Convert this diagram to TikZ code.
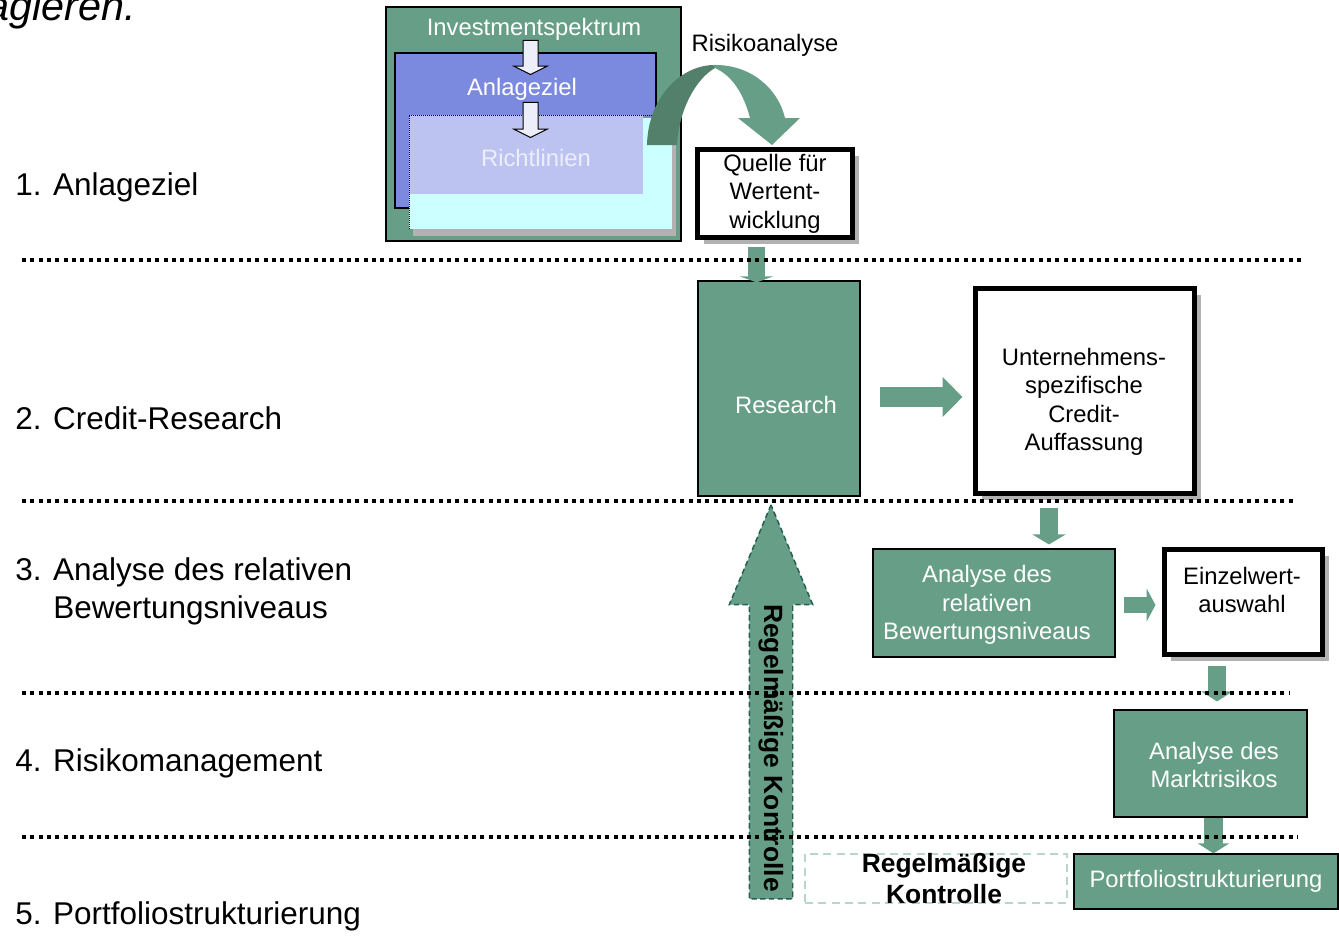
\documentclass[tikz,border=0pt]{standalone}
\usepackage{fontspec}
\setmainfont{Liberation Sans}
\usepackage{tikz}
\usetikzlibrary{arrows.meta}
\usetikzlibrary{calc}
\usetikzlibrary{shadows}
\usetikzlibrary{shapes.arrows}

\definecolor{boxgreen}{RGB}{102,158,135}
\definecolor{legdark}{RGB}{82,128,107}
\definecolor{ctrldash}{RGB}{35,95,78}
\definecolor{zielblue}{RGB}{123,137,222}
\definecolor{richtlav}{RGB}{189,195,240}
\definecolor{richtcyan}{RGB}{204,255,255}
\definecolor{shadowgray}{RGB}{178,178,178}
\definecolor{ctrlframe}{RGB}{185,215,200}
\definecolor{pfeilfill}{RGB}{236,238,250}

\begin{document}
\begin{tikzpicture}[x=0.75pt,y=0.75pt,yscale=-1,xscale=1,
  boxfont/.style={font=\fontsize{17.85}{21.4}\selectfont},
  boxtext/.style={boxfont,inner sep=0pt,align=center},
  greenbox/.style={draw=black,line width=0.9pt,fill=boxgreen,text=white,align=center,inner sep=0pt,boxfont},
  thickbox/.style={draw=black,line width=3.75pt,fill=white,align=center,inner sep=0pt,boxfont,
    drop shadow={shadow xshift=4.5pt,shadow yshift=-4.5pt,fill=shadowgray,opacity=1}},
  stagelabel/.style={anchor=west,inner sep=0pt,align=left,font=\fontsize{23.6}{28.5}\selectfont},
  flowarrow/.style={draw=boxgreen,line width=13.5pt,-{Triangle[width=24.75pt,length=7.5pt]}},
  sepline/.style={line width=3pt,dash pattern=on 3pt off 3.25pt},
  smallarrow/.style={single arrow,draw=black,line width=0.75pt,fill=pfeilfill,inner xsep=0pt,inner ysep=5.25pt,
    minimum width=24pt,single arrow head extend=6.75pt,single arrow tip angle=127,rotate=-90,anchor=tip},
  boldfont/.style={font=\fontsize{19.8}{23.25}\selectfont\bfseries}
]
\useasboundingbox (0,0) rectangle (1339,940);

% Text Node
\node[anchor=base west,inner sep=0pt,font=\fontsize{31}{37}\selectfont\itshape] (satzende) at (-14,20) {agieren.};

%Shape: Rectangle [Investmentspektrum]
\node[greenbox,minimum width=221.25pt,minimum height=175.5pt] (spektrum) at (533.5,124) {};
%Shape: Rectangle [Anlageziel]
\node[draw=black,line width=0.9pt,fill=zielblue,inner sep=0pt,minimum width=195.75pt,minimum height=116.25pt] (ziel) at (525.5,130.5) {};
%Shape: Rectangle [Richtlinien]
\fill[shadowgray] (413,122) rectangle (676,236);
\fill[richtcyan] (409,118) rectangle (672,229);
\node[fill=richtlav,inner sep=0pt,minimum width=175.5pt,minimum height=59.25pt] (richtl) at (526,154.5) {};
\draw[line width=0.75pt,dash pattern=on 0.75pt off 0.75pt] (409,229) -- (409,115) -- (657,115);

% Text Node
\node[boxtext,text=white] (spektrumtxt) at (534,29) {Investmentspektrum};
% Text Node
\node[boxtext,text=white] (zieltxt) at (522,89) {Anlageziel};
% Text Node
\node[boxtext,text=pfeilfill] (richtltxt) at (536,158) {Richtlinien};
%Shape: Down Arrow
\node[smallarrow,minimum height=25.5pt] (pfeil1) at (530.5,75) {};
%Shape: Down Arrow
\node[smallarrow,minimum height=26.25pt] (pfeil2) at (530.5,138) {};

%Curve Lines [Risikoanalyse]
\fill[boxgreen] (713,65) .. controls (750,64) and (778,88) .. (785,118) -- (800,118) -- (772,145) -- (738,118) -- (750,118) .. controls (744,95) and (733,76) .. (715,68) -- cycle;
\fill[legdark] (647,145) .. controls (648,98) and (680,66) .. (713,65) -- (715,68) .. controls (697,78) and (679,108) .. (677,145) -- cycle;
% Text Node
\node[boxtext] (risiko) at (765,45) {Risikoanalyse};

%Shape: Rectangle [Quelle]
\node[thickbox,minimum width=116.25pt,minimum height=66pt] (quelle) at (775,193.5) {Quelle für\\Wertent-\\wicklung};
%Shape: Rectangle [Research]
\node[greenbox,minimum width=121.5pt,minimum height=161.25pt] (research) at (779,388.5) {};
\node[boxtext,text=white] (researchtxt) at (786,405) {Research};
%Shape: Rectangle [Credit-Auffassung]
\node[thickbox,minimum width=164.25pt,minimum height=153.75pt] (unt) at (1085,391) {};
\node[boxtext] (unttxt) at (1084,402) {Unternehmens-\\spezifische\\Credit-\\Auffassung};
%Shape: Rectangle [Bewertungsniveau]
\node[greenbox,minimum width=181.5pt,minimum height=81pt] (analyse) at (994,603) {};
\node[boxtext,text=white] (analysetxt) at (987,605) {Analyse des\\relativen\\Bewertungsniveaus};
%Shape: Rectangle [Einzelwertauswahl]
\node[thickbox,minimum width=118.5pt,minimum height=78.75pt] (einzel) at (1243.5,602) {};
\node[boxtext] (einzeltxt) at (1242,590) {Einzelwert-\\auswahl};
%Shape: Rectangle [Marktrisiko]
\node[greenbox,minimum width=144.75pt,minimum height=80.25pt] (markt) at (1210.5,763.5) {};
\node[boxtext,text=white] (markttxt) at (1214,765) {Analyse des\\Marktrisikos};
%Shape: Rectangle [Portfolio]
\node[greenbox,minimum width=198pt,minimum height=41.25pt] (portfolio) at (1206,881.5) {Portfoliostrukturierung};
%Shape: Rectangle [Kontrolle]
\node[draw=ctrlframe,line width=1.1pt,dash pattern=on 6pt off 4pt,inner sep=0pt,minimum width=196.5pt,minimum height=36.75pt] (ctrlbox) at (936,878.5) {};

%Block Arrows
\draw[flowarrow,line width=12.75pt,-{Triangle[width=24.75pt,length=4.5pt]}] ($(quelle.south)+(-18.5,7)$) -- ($(research.north)+(-22.5,2)$);
\draw[flowarrow,line width=15pt,-{Triangle[width=29.25pt,length=15pt]}] ($(research.east)+(19,8.5)$) -- ($(unt.west)+(-10.5,6)$);
\draw[flowarrow] ($(unt.south)+(-36,11.5)$) -- ($(analyse.north)+(55,-4)$);
\draw[flowarrow,line width=12pt,-{Triangle[width=24.75pt,length=6.75pt]}] ($(analyse.east)+(8,2)$) -- ($(einzel.west)+(-6.5,3)$);
\draw[flowarrow,-{Triangle[width=23.25pt,length=7.5pt]}] ($(einzel.south)+(-26.5,8.5)$) -- ($(markt.north)+(6.5,-8)$);
\draw[flowarrow,line width=14.25pt,-{Triangle[width=23.25pt,length=7.5pt]}] ($(markt.south)+(3,0)$) -- ($(portfolio.north)+(7.5,0)$);

%Shape: Up Arrow [Kontrolle]
\node[single arrow,draw=ctrldash,line width=1.1pt,dash pattern=on 4pt off 2.5pt,fill=boxgreen,inner xsep=0pt,inner ysep=15.75pt,minimum width=61.5pt,minimum height=295.5pt,single arrow head extend=15pt,single arrow tip angle=45.4,rotate=90,anchor=tip] (ctrlarrow) at (771,503) {};

%Straight Lines
\draw[sepline] (22,260) -- (1305,260);
\draw[sepline] (22,501) -- (1293,501);
\draw[sepline] (22,693) -- (1290,693);
\draw[sepline] (22,837) -- (1298,837);

% Text Node
\node[boldfont,rotate=-90,inner sep=0pt] (ctrlarrowtxt) at (771,748) {Regelmäßige Kontrolle};
% Text Node
\node[boldfont,align=center,inner sep=0pt] (ctrltxt) at (944,879) {Regelmäßige\\Kontrolle};

% Text Node
\node[stagelabel] (stage1) at (15,187) {1. Anlageziel};
% Text Node
\node[stagelabel] (stage2) at (15,418) {2. Credit-Research};
% Text Node
\node[stagelabel] (stage3) at (15,591) {3. Analyse des relativen\\\hspace*{28.5pt}Bewertungsniveaus};
% Text Node
\node[stagelabel] (stage4) at (15,763) {4. Risikomanagement};
% Text Node
\node[stagelabel] (stage5) at (15,916) {5. Portfoliostrukturierung};

\end{tikzpicture}
\end{document}
